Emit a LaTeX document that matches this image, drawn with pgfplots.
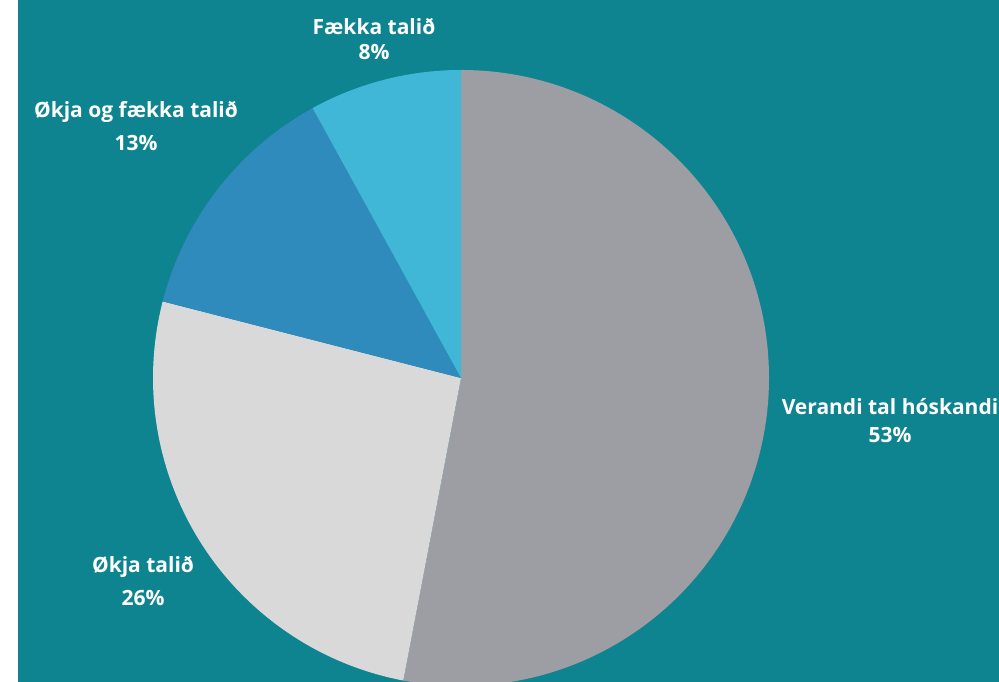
\documentclass[border=0pt]{standalone}
\usepackage{pgfplots}
\pgfplotsset{compat=1.18}
\usepackage{fontspec}
\setmainfont{Open Sans}
\definecolor{bgteal}{HTML}{0E8491}
\definecolor{sgray}{HTML}{9D9EA3}
\definecolor{slgray}{HTML}{D9D9D9}
\definecolor{sblue}{HTML}{2E8BBC}
\definecolor{slblue}{HTML}{41B7D7}
\begin{document}
\begin{tikzpicture}[x=1pt,y=1pt]
\useasboundingbox (0,0) rectangle (999,682);
\fill[white] (0,0) rectangle (999,682);
\fill[bgteal] (18,0) rectangle (999,682);
\begin{axis}[
  at={(0pt,0pt)}, anchor=south west,
  x=1pt, y=1pt, scale only axis,
  xmin=-461, xmax=538, ymin=-304, ymax=378,
  hide axis, clip=true,
]
% shares in percent, clockwise from the top
\def\vA{53}\def\vB{26}\def\vC{13}\def\vD{8}
\pgfmathsetmacro{\aA}{90}
\pgfmathsetmacro{\aB}{\aA-\vA*3.6}
\pgfmathsetmacro{\aC}{\aB-\vB*3.6}
\pgfmathsetmacro{\aD}{\aC-\vC*3.6}
\pgfmathsetmacro{\aE}{\aD-\vD*3.6}
\fill[sgray]  (axis cs:0,0) -- ({axis cs:{308*cos(\aA)},{308*sin(\aA)}}) arc[start angle=\aA, end angle=\aB, radius=308pt] -- cycle;
\fill[slgray] (axis cs:0,0) -- ({axis cs:{308*cos(\aB)},{308*sin(\aB)}}) arc[start angle=\aB, end angle=\aC, radius=308pt] -- cycle;
\fill[sblue]  (axis cs:0,0) -- ({axis cs:{308*cos(\aC)},{308*sin(\aC)}}) arc[start angle=\aC, end angle=\aD, radius=308pt] -- cycle;
\fill[slblue] (axis cs:0,0) -- ({axis cs:{308*cos(\aD)},{308*sin(\aD)}}) arc[start angle=\aD, end angle=\aE, radius=308pt] -- cycle;
\end{axis}
\begin{scope}[every node/.style={text=white, font=\fontsize{21}{24}\selectfont\bfseries, inner sep=0pt}]
\node at (374,682-27) {Fækka talið};
\node at (374,682-52) {8\%};
\node at (136,682-112) {Økja og fækka talið};
\node at (136,682-143) {13\%};
\node at (890,682-407) {Verandi tal hóskandi};
\node at (890,682-435) {53\%};
\node at (143,682-567) {Økja talið};
\node at (143,682-598) {26\%};
\end{scope}
\end{tikzpicture}
\end{document}
